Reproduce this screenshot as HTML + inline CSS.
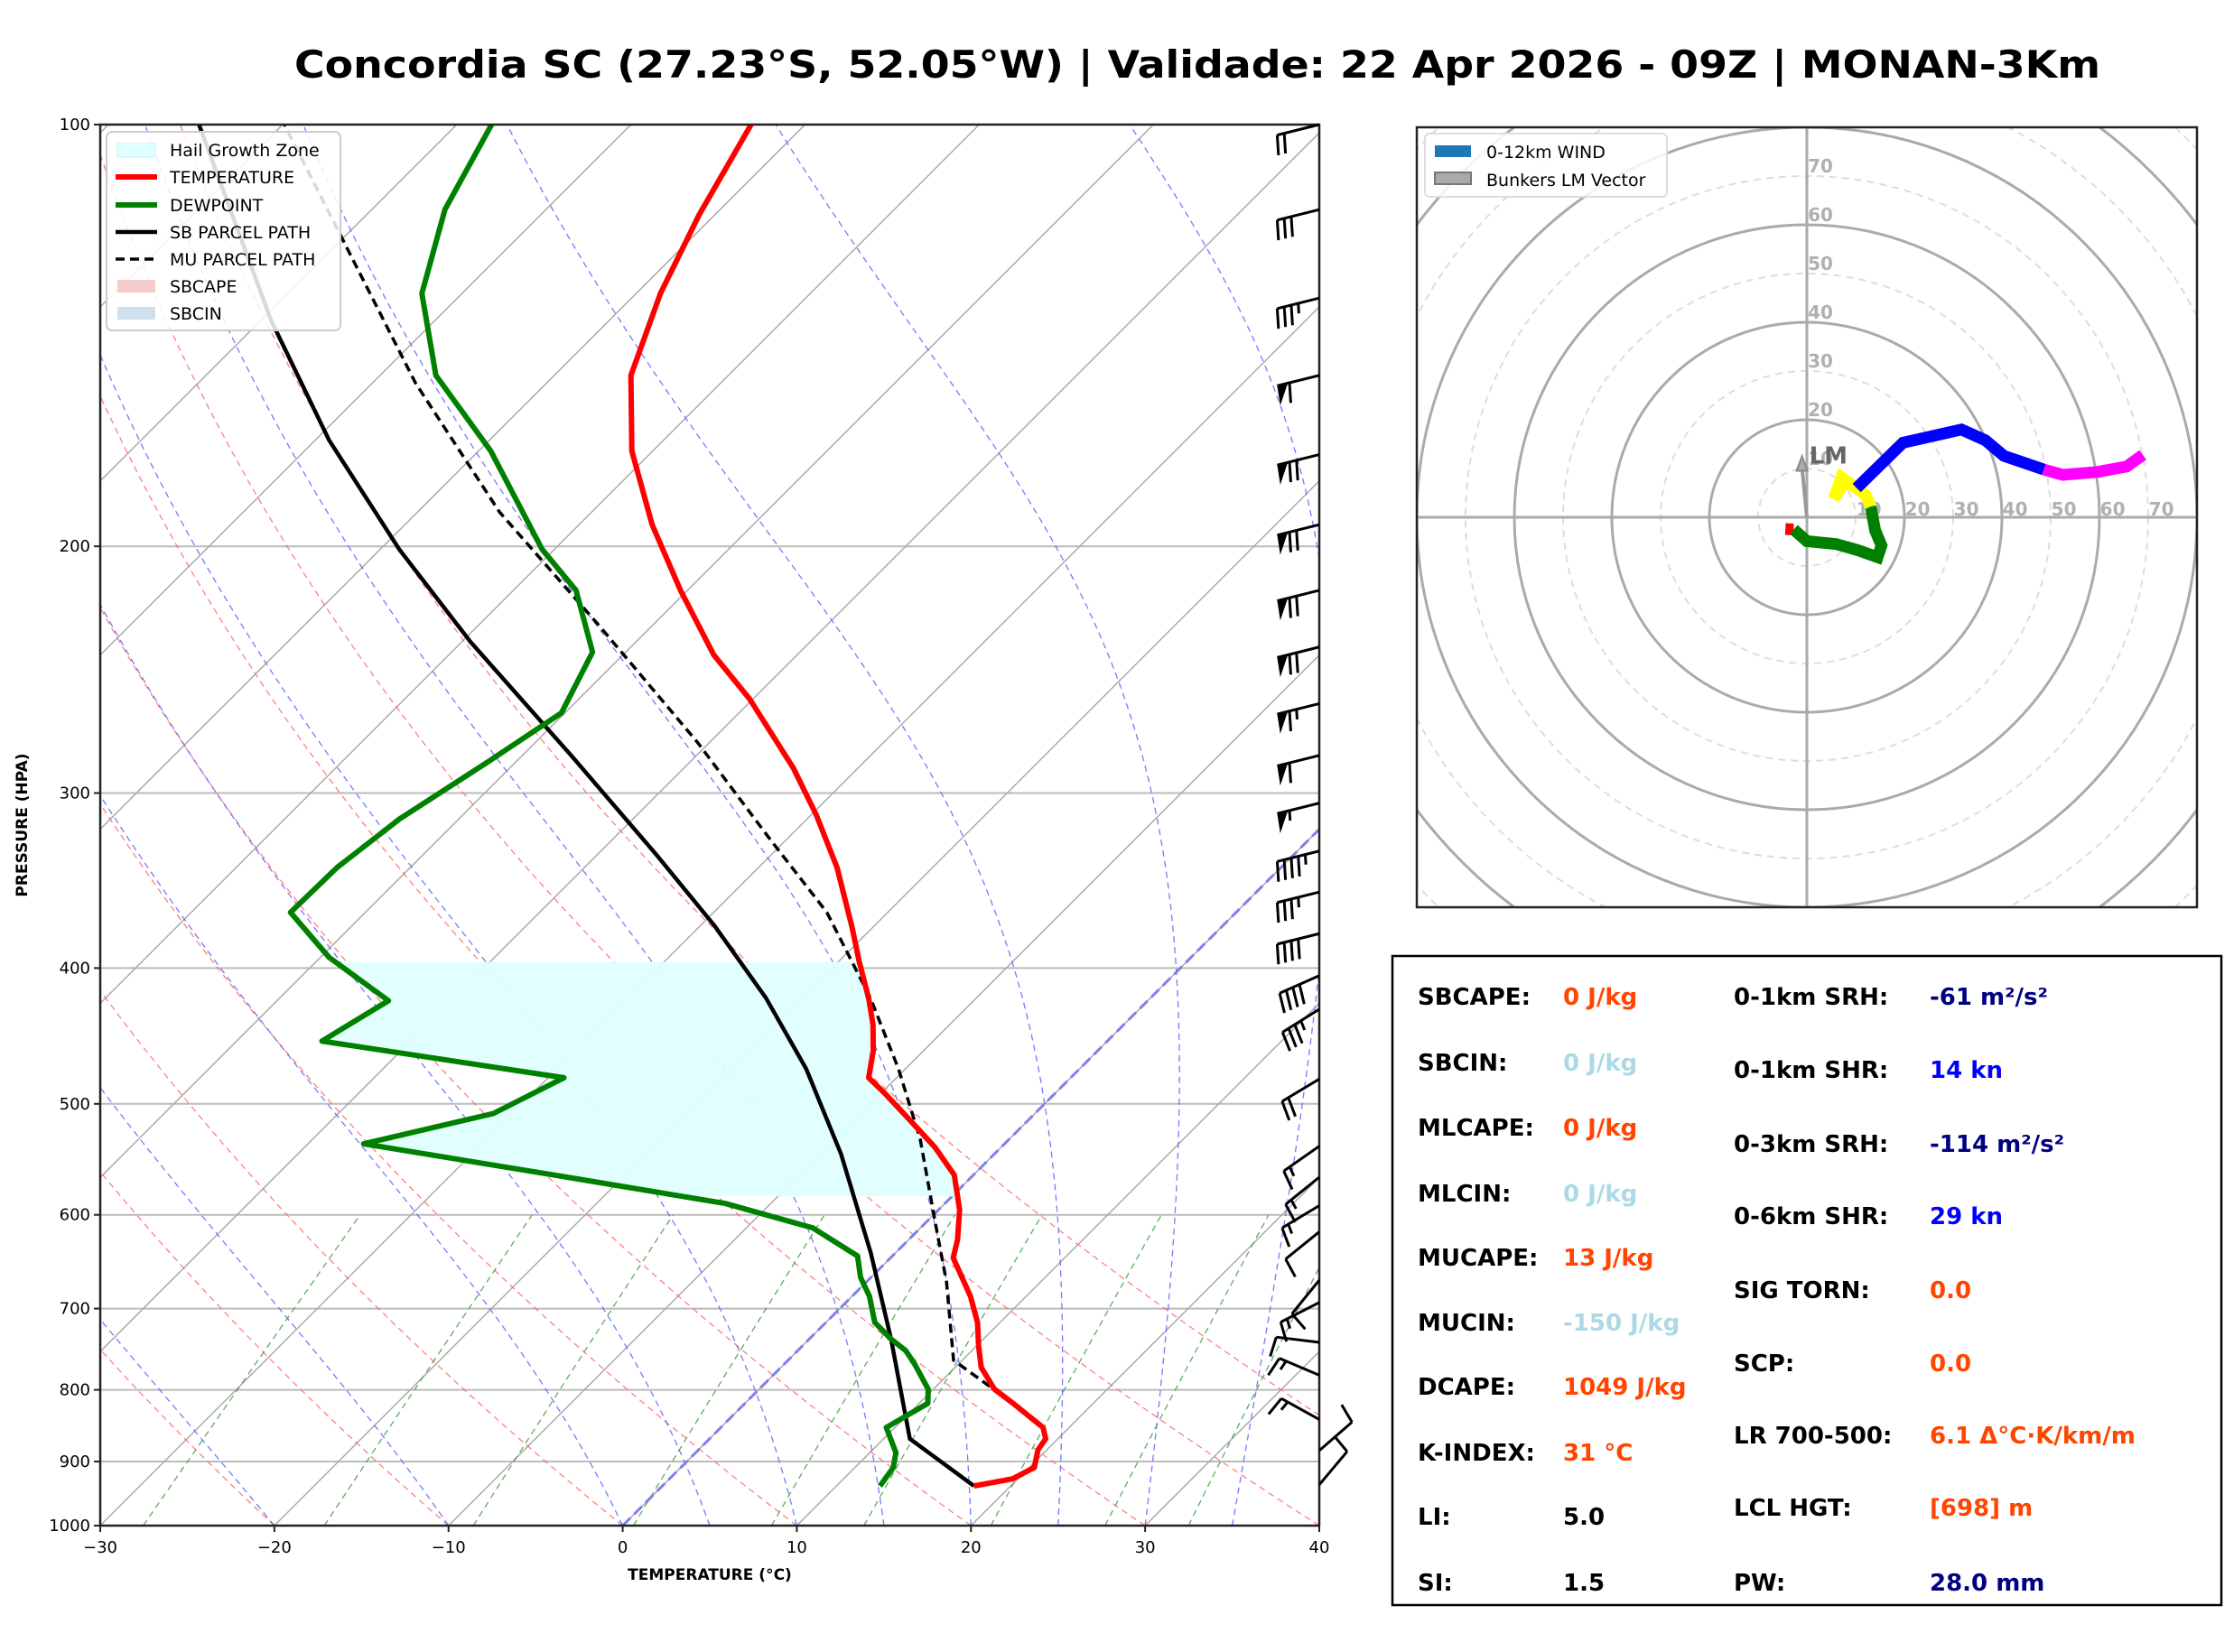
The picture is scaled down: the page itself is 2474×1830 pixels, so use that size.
<!DOCTYPE html>
<html><head><meta charset="utf-8"><style>
html,body{margin:0;padding:0;background:#fff;}
svg{display:block;font-family:"DejaVu Sans","Liberation Sans",sans-serif;}
</style></head><body>
<svg id="fig" width="2474" height="1830" viewBox="0 0 2474 1830" xmlns="http://www.w3.org/2000/svg">
<rect width="2474" height="1830" fill="#fff"/>
<defs>
<clipPath id="skewclip"><rect x="111" y="138" width="1350" height="1552"/></clipPath>
<clipPath id="hodoclip"><rect x="1569" y="141" width="864" height="864"/></clipPath>
</defs>
<text x="1326" y="86" text-anchor="middle" font-size="42" font-weight="bold" textLength="2000" lengthAdjust="spacingAndGlyphs">Concordia SC (27.23°S, 52.05°W) | Validade: 22 Apr 2026 - 09Z | MONAN-3Km</text>
<g id="skew">
<g id="skewGrid" clip-path="url(#skewclip)"></g>
<g id="skewData" clip-path="url(#skewclip)"></g>
<rect x="111" y="138" width="1350" height="1552" fill="none" stroke="#222" stroke-width="2.5"/>
<g id="skewAxes"></g>
<g id="barbs"></g>
<text x="0" y="0" transform="translate(30,914) rotate(-90)" text-anchor="middle" font-size="17" font-weight="bold">PRESSURE (HPA)</text>
<text x="786" y="1750" text-anchor="middle" font-size="17" font-weight="bold">TEMPERATURE (°C)</text>
<g>
<rect x="118" y="146" width="259" height="220" rx="6" fill="#fff" fill-opacity="0.85" stroke="#ccc" stroke-width="2"/>
<rect x="130" y="159" width="42" height="15" fill="#e0ffff" stroke="#c0f4f4"/>
<text x="188" y="173" font-size="19">Hail Growth Zone</text>
<line x1="128" y1="196" x2="174" y2="196" stroke="red" stroke-width="6"/>
<text x="188" y="203" font-size="19">TEMPERATURE</text>
<line x1="128" y1="227" x2="174" y2="227" stroke="green" stroke-width="6"/>
<text x="188" y="234" font-size="19">DEWPOINT</text>
<line x1="128" y1="257" x2="174" y2="257" stroke="#000" stroke-width="4.5"/>
<text x="188" y="264" font-size="19">SB PARCEL PATH</text>
<line x1="128" y1="287" x2="174" y2="287" stroke="#000" stroke-width="3.5" stroke-dasharray="10,6"/>
<text x="188" y="294" font-size="19">MU PARCEL PATH</text>
<rect x="130" y="310" width="42" height="14" fill="#f4cccc"/>
<text x="188" y="324" font-size="19">SBCAPE</text>
<rect x="130" y="340" width="42" height="14" fill="#cfe0ec"/>
<text x="188" y="354" font-size="19">SBCIN</text>
</g>
</g>
<g id="hodo">
<g id="hodoGrid" clip-path="url(#hodoclip)"></g>
<g id="hodoData" clip-path="url(#hodoclip)"></g>
<rect x="1569" y="141" width="864" height="864" fill="none" stroke="#222" stroke-width="2.5"/>
<g>
<rect x="1578" y="148" width="268" height="70" rx="5" fill="#fff" fill-opacity="0.85" stroke="#ddd" stroke-width="2"/>
<rect x="1589" y="161" width="40" height="13" fill="#1f77b4"/>
<text x="1646" y="175" font-size="19">0-12km WIND</text>
<rect x="1589" y="191" width="40" height="13" fill="#aaa" stroke="#777" stroke-width="2"/>
<text x="1646" y="206" font-size="19">Bunkers LM Vector</text>
</g>
</g>
<g id="table" font-size="26" font-weight="bold">
<rect x="1542" y="1059" width="918" height="719" fill="#fff" stroke="#000" stroke-width="2.5"/>
<text x="1570" y="1113">SBCAPE:</text><text x="1731" y="1113" fill="#ff4500">0 J/kg</text>
<text x="1570" y="1186">SBCIN:</text><text x="1731" y="1186" fill="#add8e6">0 J/kg</text>
<text x="1570" y="1258">MLCAPE:</text><text x="1731" y="1258" fill="#ff4500">0 J/kg</text>
<text x="1570" y="1331">MLCIN:</text><text x="1731" y="1331" fill="#add8e6">0 J/kg</text>
<text x="1570" y="1402">MUCAPE:</text><text x="1731" y="1402" fill="#ff4500">13 J/kg</text>
<text x="1570" y="1474">MUCIN:</text><text x="1731" y="1474" fill="#add8e6">-150 J/kg</text>
<text x="1570" y="1545">DCAPE:</text><text x="1731" y="1545" fill="#ff4500">1049 J/kg</text>
<text x="1570" y="1618">K-INDEX:</text><text x="1731" y="1618" fill="#ff4500">31 °C</text>
<text x="1570" y="1689">LI:</text><text x="1731" y="1689" fill="#000">5.0</text>
<text x="1570" y="1762">SI:</text><text x="1731" y="1762" fill="#000">1.5</text>
<text x="1920" y="1113">0-1km SRH:</text><text x="2137" y="1113" fill="#000080">-61 m²/s²</text>
<text x="1920" y="1194">0-1km SHR:</text><text x="2137" y="1194" fill="#0000ff">14 kn</text>
<text x="1920" y="1276">0-3km SRH:</text><text x="2137" y="1276" fill="#000080">-114 m²/s²</text>
<text x="1920" y="1356">0-6km SHR:</text><text x="2137" y="1356" fill="#0000ff">29 kn</text>
<text x="1920" y="1438">SIG TORN:</text><text x="2137" y="1438" fill="#ff4500">0.0</text>
<text x="1920" y="1519">SCP:</text><text x="2137" y="1519" fill="#ff4500">0.0</text>
<text x="1920" y="1599">LR 700-500:</text><text x="2137" y="1599" fill="#ff4500">6.1 Δ°C·K/km/m</text>
<text x="1920" y="1679">LCL HGT:</text><text x="2137" y="1679" fill="#ff4500">[698] m</text>
<text x="1920" y="1762">PW:</text><text x="2137" y="1762" fill="#000080">28.0 mm</text>
</g>
</svg>
<script>
// ---- sounding data ----
const tempP=[937,926,909,883,867,851,818,799,771,744,716,686,662,644,625,595,562,537,512,492,479,458,439,421,395,374,339,311,288,257,239,215,193,171,151,132,116,100];
const tempT=[17.9,19.7,20.3,19.5,19.3,18.5,15.4,13.5,11.5,10.1,8.7,6.8,5.0,3.6,2.8,1.2,-1.1,-3.8,-7.0,-9.7,-11.6,-12.9,-14.4,-16.1,-18.9,-21.2,-25.5,-29.7,-33.7,-40.2,-44.8,-50.4,-55.8,-61.2,-65.6,-68.6,-70.9,-73.1];
const dewP=[937,909,887,851,818,799,767,750,736,716,686,665,642,613,589,562,534,508,479,451,422,393,365,339,313,285,263,238,215,201,171,151,132,115,100];
const dewT=[12.5,12.2,11.5,9.5,10.5,9.7,7.5,6.2,4.7,2.8,1.0,-0.6,-2.0,-6.2,-12.6,-24.1,-36.8,-31.1,-29.1,-45.1,-43.6,-49.5,-54.3,-54.2,-53.4,-51.6,-50.2,-51.9,-56.4,-60.7,-69.3,-76.8,-82.3,-85.8,-88.0];
const sbP=[937,867,736,639,543,472,420,373,332,282,234,201,168,138,100];
const sbT=[17.9,11.5,4.7,-1.4,-8.8,-15.7,-22.1,-29.2,-36.6,-47.2,-59.5,-68.9,-79.2,-89.4,-104.8];
const muP=[818,762,670,610,530,472,420,365,324,276,228,189,153,100];
const muT=[15.4,9.5,4.6,0.7,-5.1,-10.4,-16.1,-23.5,-30.9,-40.7,-53.0,-65.3,-77.5,-99.9];
const hailTop=396, hailBottom=582;
const pressureTicks=[100,200,300,400,500,600,700,800,900,1000];
const tempTicks=[-30,-20,-10,0,10,20,30,40];
const mixingRatios=[0.0004,0.001,0.002,0.004,0.007,0.01,0.016,0.024,0.032];
const moistStarts=[-30,-20,-10,0,5,10,15,20,25,30,35];
const dryStarts=[-30,-20,-10,0,10,20,30,40,50];
// ---- wind barbs ----
const barbP=[100,115,133,151,172,193,215,236,259,282,305,330,353,378,405,428,480,536,564,591,617,668,693,740,781,840,884,935];
const barbSpd=[20,30,35,60,70,70,70,70,65,60,55,45,35,40,40,35,20,15,15,15,10,10,15,10,15,15,10,10];
const barbDir=[256,256,256,256,256,256,256,256,256,256,256,256,256,256,246,238,239,235,231,239,231,219,243,277,293,299,49,40];
// ---- hodograph (kn) ----
const hodoRedU=[-4.4,-3.0,-2.7], hodoRedV=[-2.4,-2.5,-2.5];
const hodoGreenU=[-2.7,0,6.0,10.6,14.5,15.3,14.0,13.1], hodoGreenV=[-2.5,-4.9,-5.5,-6.8,-8.2,-5.8,-2.7,2.2];
const hodoYellowU=[13.1,12.0,7.1,5.5,7.7,10.2], hodoYellowV=[2.2,4.6,8.2,3.8,7.1,6.0];
const hodoBlueU=[10.2,19.7,31.7,36.6,40.4,48.6], hodoBlueV=[6.0,15.3,18.0,15.8,12.6,9.8];
const hodoMagU=[48.6,52.5,59.6,65.6,68.9], hodoMagV=[9.8,8.7,9.3,10.4,12.8];
const lmU=-1.0, lmV=12.5;
const ringLabels=[10,20,30,40,50,60,70];

const NS='http://www.w3.org/2000/svg';
function mk(tag,attrs,parent){const e=document.createElementNS(NS,tag);for(const k in attrs)e.setAttribute(k,attrs[k]);parent.appendChild(e);return e;}
const X0=111,X1=1461,YT=138,YB=1690;
function yP(p){return YB-(YB-YT)*Math.log10(1000/p);}
function xT(T,p){return X0+(T+30)*(X1-X0)/70+(YB-yP(p));}
function pathFrom(ps,ts){return ps.map((p,i)=>(i?'L':'M')+xT(ts[i],p).toFixed(1)+','+yP(p).toFixed(1)).join(' ');}

const grid=document.getElementById('skewGrid');
const dataG=document.getElementById('skewData');
const axes=document.getElementById('skewAxes');
pressureTicks.forEach(p=>{
  const l=mk('line',{x1:X0,x2:X1,y1:yP(p),y2:yP(p),stroke:'#bbb','stroke-width':2},grid);
  
  
});
for(let T=-160;T<=40;T+=10){
  const l=mk('line',{x1:xT(T,1000),y1:yP(1000),x2:xT(T,100),y2:yP(100),stroke:'#aaa','stroke-width':1.5},grid);
  
  
}
const pl=[];for(let p=1000;p>=100;p-=10)pl.push(p);
dryStarts.forEach(t0=>{
  const th=t0+273.15;
  const ts=pl.map(p=>th*Math.pow(p/1000,0.286)-273.15);
  const e=mk('path',{d:pathFrom(pl,ts),fill:'none',stroke:'#ff6060','stroke-width':1.3,'stroke-dasharray':'7,5','stroke-opacity':0.8},grid);
  
  
});
function es(Tk){return 6.112*Math.exp(17.67*(Tk-273.15)/(Tk-29.65));}
moistStarts.forEach(t0=>{
  let T=t0+273.15;const ps=[1000],ts=[t0];
  for(let p=1000;p>100;p-=2){
    const e=es(T),rs=0.622*e/(p-e);
    const d=(287.04*T+2.501e6*rs)/(p*(1005.7+2.501e6*2.501e6*rs*0.622/(287.04*T*T)));
    T-=d*2;ps.push(p-2);ts.push(T-273.15);
  }
  const e=mk('path',{d:pathFrom(ps,ts),fill:'none',stroke:'#6060ff','stroke-width':1.3,'stroke-dasharray':'7,5','stroke-opacity':0.85},grid);
  
  
});
mixingRatios.forEach(w=>{
  const ps=[],ts=[];
  for(let p=1000;p>=600;p-=20){const e=w*p/(0.622+w);const L=Math.log(e/6.112);ps.push(p);ts.push(243.5*L/(17.67-L));}
  const e=mk('path',{d:pathFrom(ps,ts),fill:'none',stroke:'#40a040','stroke-width':1.3,'stroke-dasharray':'7,5','stroke-opacity':0.85},grid);
  
  
});
const zl=mk('line',{x1:xT(0,1000),y1:yP(1000),x2:xT(0,100),y2:yP(100),stroke:'#8080e8','stroke-width':3,'stroke-dasharray':'12,6'},grid);



function interp(ps,ts,p){for(let i=0;i<ps.length-1;i++){if((ps[i]-p)*(ps[i+1]-p)<=0){const f=Math.log(p/ps[i])/Math.log(ps[i+1]/ps[i]);return ts[i]+f*(ts[i+1]-ts[i]);}}return ts[ts.length-1];}
{
  const pts=[];const steps=40;
  for(let i=0;i<=steps;i++){const p=hailBottom+(hailTop-hailBottom)*i/steps;pts.push([xT(interp(tempP,tempT,p),p),yP(p)]);}
  for(let i=steps;i>=0;i--){const p=hailBottom+(hailTop-hailBottom)*i/steps;pts.push([xT(interp(dewP,dewT,p),p),yP(p)]);}
  const e=mk('polygon',{points:pts.map(q=>q[0].toFixed(1)+','+q[1].toFixed(1)).join(' '),fill:'#e0ffff','fill-opacity':0.95},dataG);
  
  
}
let e;
e=mk('path',{d:pathFrom(muP,muT),fill:'none',stroke:'#000','stroke-width':3.5,'stroke-dasharray':'10,6'},dataG);


e=mk('path',{d:pathFrom(sbP,sbT),fill:'none',stroke:'#000','stroke-width':4.5},dataG);


e=mk('path',{d:pathFrom(dewP,dewT),fill:'none',stroke:'green','stroke-width':6,'stroke-linejoin':'round'},dataG);


e=mk('path',{d:pathFrom(tempP,tempT),fill:'none',stroke:'red','stroke-width':6,'stroke-linejoin':'round'},dataG);



pressureTicks.forEach(p=>{
  const y=yP(p);
  mk('line',{x1:X0-7,x2:X0,y1:y,y2:y,stroke:'#222','stroke-width':2},axes);
  const t=mk('text',{x:X0-11,y:y+6,'text-anchor':'end','font-size':18},axes);
  t.textContent=p;
  
  
});
tempTicks.forEach(T=>{
  const x=X0+(T+30)*(X1-X0)/70;
  mk('line',{x1:x,x2:x,y1:YB,y2:YB+7,stroke:'#222','stroke-width':2},axes);
  const t=mk('text',{x:x,y:YB+30,'text-anchor':'middle','font-size':18},axes);
  t.textContent=T<0?'\u2212'+Math.abs(T):String(T);
  
  
});

const bg=document.getElementById('barbs');
barbP.forEach((p,i)=>{
  const d=barbDir[i]*Math.PI/180;
  const ux=Math.sin(d),uy=-Math.cos(d);
  const ax=1461,ay=yP(p);const L=48;
  const tx=ax+ux*L,ty=ay+uy*L;
  const px=uy,py=-ux;
  const g=mk('g',{},bg);
  
  
  mk('line',{x1:ax,y1:ay,x2:tx,y2:ty,stroke:'#000','stroke-width':3},g);
  let s=barbSpd[i];let pos=0;
  const pen=Math.floor(s/50);s-=pen*50;const full=Math.floor(s/10);s-=full*10;const half=s>=5?1:0;
  for(let k=0;k<pen;k++){
    const bx=tx-ux*pos,by=ty-uy*pos;
    const cx=bx-ux*12,cy=by-uy*12;
    mk('polygon',{points:`${bx},${by} ${cx},${cy} ${bx+px*22+ux*2},${by+py*22+uy*2}`,fill:'#000'},g);
    pos+=14;
  }
  for(let k=0;k<full;k++){
    const bx=tx-ux*pos,by=ty-uy*pos;
    mk('line',{x1:bx,y1:by,x2:bx+px*22+ux*4,y2:by+py*22+uy*4,stroke:'#000','stroke-width':3},g);
    pos+=8;
  }
  if(half){
    if(!pen&&!full)pos+=8;
    const bx=tx-ux*pos,by=ty-uy*pos;
    mk('line',{x1:bx,y1:by,x2:bx+px*11+ux*2,y2:by+py*11+uy*2,stroke:'#000','stroke-width':3},g);
  }
});

const HC={x:2001,y:573},K=5.4;
const hg=document.getElementById('hodoGrid');
for(let r=10;r<=130;r+=10){
  const solid=(r%20===0);
  const c=mk('circle',{cx:HC.x,cy:HC.y,r:r*K,fill:'none',stroke:solid?'#aaa':'#ddd','stroke-width':solid?3:2,'stroke-dasharray':solid?'none':'8,6'},hg);
  
  
}
mk('line',{x1:1569,x2:2433,y1:HC.y,y2:HC.y,stroke:'#aaa','stroke-width':3},hg);
mk('line',{x1:HC.x,x2:HC.x,y1:141,y2:1005,stroke:'#aaa','stroke-width':3},hg);
ringLabels.forEach(r=>{
  let t=mk('text',{x:HC.x+(r+2.7)*K,y:HC.y-2,'text-anchor':'middle','font-size':20,'font-weight':'bold',fill:'#b0b0b0'},hg);
  t.textContent=r;
  
  
  t=mk('text',{x:HC.x+15,y:HC.y-(r+2)*K+7,'text-anchor':'middle','font-size':20,'font-weight':'bold',fill:'#b0b0b0'},hg);
  t.textContent=r;
  
  
});
const hd=document.getElementById('hodoData');
function hpath(us,vs){return us.map((u,i)=>(i?'L':'M')+(HC.x+u*K).toFixed(1)+','+(HC.y-vs[i]*K).toFixed(1)).join(' ');}
[[hodoRedU,hodoRedV,'red','hodo-segment-red'],[hodoGreenU,hodoGreenV,'green','hodo-segment-green'],[hodoYellowU,hodoYellowV,'yellow','hodo-segment-yellow'],[hodoBlueU,hodoBlueV,'blue','hodo-segment-blue'],[hodoMagU,hodoMagV,'magenta','hodo-segment-magenta']].forEach(s=>{
  const p=mk('path',{d:hpath(s[0],s[1]),fill:'none',stroke:s[2],'stroke-width':13,'stroke-linejoin':'miter'},hd);
  
  
});
{
  const ex=HC.x+lmU*K,ey=HC.y-lmV*K;
  const a=mk('line',{x1:HC.x,y1:HC.y,x2:ex,y2:ey+12,stroke:'#999','stroke-width':4},hd);
  
  
  mk('polygon',{points:`${ex},${ey} ${ex-6},${ey+16} ${ex+6},${ey+16}`,fill:'#aaa',stroke:'#888','stroke-width':2},hd);
  const t=mk('text',{x:ex+8,y:ey+8,'font-size':26,'font-weight':'bold',fill:'#666'},hd);
  t.textContent='LM';
  
  
}
</script>
</body></html>
